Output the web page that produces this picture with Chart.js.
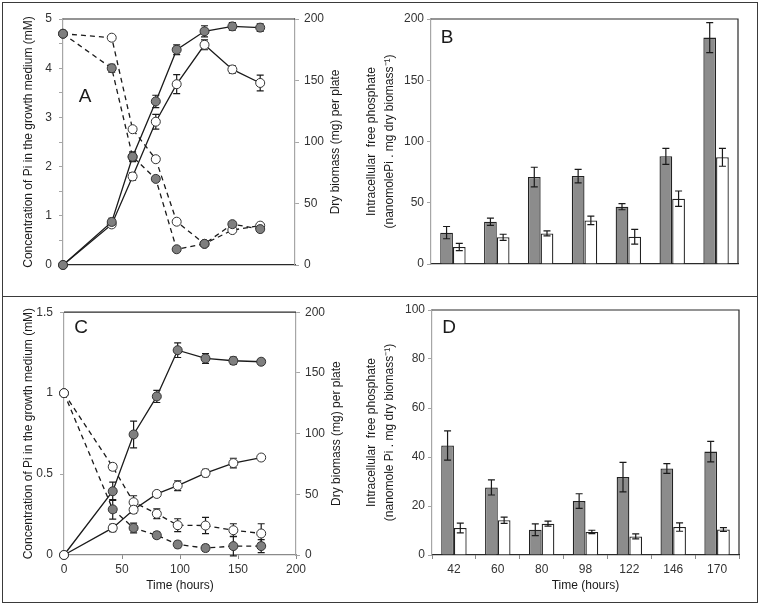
<!DOCTYPE html>
<html>
<head>
<meta charset="utf-8">
<script src="https://cdn.jsdelivr.net/npm/chart.js@4.4.1/dist/chart.umd.min.js"></script>
<style>
  html, body { margin: 0; padding: 0; background: #fff; }
  #lienzo { position: relative; width: 762px; height: 605px; overflow: hidden; }
  canvas { position: absolute; }
  .marco { position: absolute; border: 1.5px solid #3a3a3a; box-sizing: border-box; }
</style>
</head>
<body>
<div id="lienzo">
  <div class="marco" style="left:2px;top:2px;width:756px;height:295px"></div>
  <div class="marco" style="left:2px;top:296px;width:756px;height:307px"></div>
  <canvas id="graficoA" width="348" height="296" style="left:0;top:0"></canvas>
  <canvas id="graficoB" width="404" height="296" style="left:358px;top:0"></canvas>
  <canvas id="graficoC" width="348" height="307" style="left:0;top:298px"></canvas>
  <canvas id="graficoD" width="404" height="307" style="left:358px;top:298px"></canvas>
</div>
<script>
// Tiempos de muestreo (horas)
const horas = [0, 42, 60, 80, 98, 122, 146, 170];
const horasBarras = ["42", "60", "80", "98", "122", "146", "170"];

// Panel A: Pi en el medio (mM) y biomasa seca (mg)
const piGrisA      = [4.7, 4.0, 2.2, 1.75, 0.32, 0.43, 0.83, 0.73];
const piGrisAErr   = [0, 0.08, 0.1, 0.05, 0.04, 0.03, 0.04, 0.04];
const piBlancoA    = [4.7, 4.62, 2.76, 2.15, 0.88, 0.43, 0.71, 0.8];
const piBlancoAErr = [0, 0.04, 0.05, 0.05, 0.05, 0.04, 0.04, 0.04];
const bioGrisA      = [0, 35, 88, 133, 175, 190, 194, 193];
const bioGrisAErr   = [0, 3, 3, 5, 4, 4.5, 3, 3];
const bioBlancoA    = [0, 33, 72, 116.5, 147, 179, 159, 148];
const bioBlancoAErr = [0, 2, 3, 6, 7.7, 4, 3, 6.4];

// Panel B: fosfato libre intracelular
const intraGrisB      = [25.6, 34.5, 71, 71.8, 46.8, 87.9, 184.8];
const intraGrisBErr   = [5, 3, 8, 5.5, 2.5, 6.5, 12.2];
const intraBlancoB    = [13.9, 21.8, 25, 35.6, 22.3, 53.3, 87.1];
const intraBlancoBErr = [3, 2.5, 2, 3.5, 6, 6.3, 7.3];

// Panel C
const piGrisC      = [1.0, 0.282, 0.167, 0.122, 0.065, 0.043, 0.055, 0.055];
const piGrisCErr   = [0, 0.06, 0.03, 0.02, 0.02, 0.02, 0.06, 0.04];
const piBlancoC    = [1.0, 0.545, 0.326, 0.255, 0.184, 0.182, 0.153, 0.133];
const piBlancoCErr = [0, 0.02, 0.04, 0.03, 0.04, 0.05, 0.04, 0.06];
const bioGrisC      = [0, 52.5, 99.3, 130.6, 168.7, 161.9, 160, 159.2];
const bioGrisCErr   = [0, 7.5, 11, 5, 6, 4, 3, 2];
const bioBlancoC    = [0, 22.3, 37.3, 50.3, 57.1, 67.5, 75.7, 80.3];
const bioBlancoCErr = [0, 3, 3, 2, 4, 3, 4, 2];

// Panel D
const intraGrisD      = [44.7, 27.6, 10.3, 22, 31.8, 35.3, 42.2];
const intraGrisDErr   = [6, 3.1, 2.4, 3, 6, 2, 4.2];
const intraBlancoD    = [11, 14.2, 12.8, 9.4, 7.6, 11.4, 10.4];
const intraBlancoDErr = [2, 1.3, 1, 0.7, 1, 1.7, 0.8];

Chart.defaults.font.family = "'Liberation Sans', Arial, sans-serif";
Chart.defaults.font.size = 12;
Chart.defaults.color = "#333";

const GRIS_MARCA = "#7f7f7f";
const GRIS_BARRA = "#8c8c8c";
const GRIS_EJE = "#a6a6a6";
const OSCURO = "#2a2a2a";
const fuenteTitulo = { size: 12 };

// Barras de error dibujadas con las escalas del propio gráfico
function dibujarErrores(chart) {
  const ctx = chart.ctx;
  ctx.save();
  ctx.strokeStyle = "#1a1a1a";
  ctx.lineWidth = 1.2;
  chart.data.datasets.forEach((ds, i) => {
    if (!ds.errores) return;
    const meta = chart.getDatasetMeta(i);
    const escala = chart.scales[meta.yAxisID];
    meta.data.forEach((el, j) => {
      const e = ds.errores[j];
      if (!e) return;
      const d = ds.data[j];
      const v = typeof d === "object" ? d.y : d;
      const y1 = escala.getPixelForValue(v + e);
      const y2 = escala.getPixelForValue(v - e);
      const x = el.x;
      ctx.beginPath();
      ctx.moveTo(x, y1); ctx.lineTo(x, y2);
      ctx.moveTo(x - 3.5, y1); ctx.lineTo(x + 3.5, y1);
      ctx.moveTo(x - 3.5, y2); ctx.lineTo(x + 3.5, y2);
      ctx.stroke();
    });
  });
  ctx.restore();
}

function pluginErrores(encima) {
  return {
    id: "barrasError",
    beforeDatasetsDraw(chart) { if (!encima) dibujarErrores(chart); },
    afterDatasetsDraw(chart) { if (encima) dibujarErrores(chart); }
  };
}

// Letra del panel, borde superior/derecho y título del eje derecho
function pluginDecoracion(letra, lx, ly, bordeDerecho, tituloDerecho) {
  return {
    id: "decoracion",
    afterDraw(chart) {
      const ctx = chart.ctx;
      const a = chart.chartArea;
      ctx.save();
      ctx.strokeStyle = OSCURO;
      ctx.lineWidth = 1.2;
      ctx.beginPath();
      ctx.moveTo(a.left, a.top);
      ctx.lineTo(a.right, a.top);
      if (bordeDerecho) ctx.lineTo(a.right, a.bottom);
      ctx.stroke();
      ctx.fillStyle = "#1a1a1a";
      ctx.textAlign = "center";
      ctx.textBaseline = "middle";
      ctx.font = "19px 'Liberation Sans', Arial, sans-serif";
      ctx.fillText(letra, lx, ly);
      if (tituloDerecho) {
        ctx.font = "12px 'Liberation Sans', Arial, sans-serif";
        ctx.translate(a.right + 41, (a.top + a.bottom) / 2);
        ctx.rotate(-Math.PI / 2);
        ctx.fillText(tituloDerecho, 0, 0);
      }
      ctx.restore();
    }
  };
}

function puntos(valores) {
  return horas.map((h, i) => ({ x: h, y: valores[i] }));
}

function serieLinea(valores, errores, eje, gris, discontinua) {
  return {
    data: puntos(valores),
    errores: errores,
    yAxisID: eje,
    borderColor: "#1a1a1a",
    borderWidth: 1.3,
    borderDash: discontinua ? [5, 4] : [],
    pointRadius: 4.5,
    pointBackgroundColor: gris ? GRIS_MARCA : "#fff",
    pointBorderColor: "#333",
    pointBorderWidth: 1,
    tension: 0,
    fill: false,
    clip: false
  };
}

function crearLineas(id, datasets, opc) {
  const ctx = document.getElementById(id).getContext("2d");
  return new Chart(ctx, {
    type: "line",
    data: { datasets: datasets },
    options: {
      responsive: false,
      animation: false,
      devicePixelRatio: 1,
      layout: { padding: opc.padding },
      plugins: { legend: { display: false }, tooltip: { enabled: false } },
      scales: {
        x: {
          type: "linear", min: 0, max: 200,
          ticks: { display: opc.ejeX, stepSize: 50, padding: 3, color: "#333" },
          grid: { display: opc.ejeX, drawOnChartArea: false, tickLength: 4, color: "#8a8a8a" },
          border: { color: opc.colorX, width: 1.2 },
          title: { display: opc.ejeX, text: "Time (hours)", color: "#1a1a1a", font: fuenteTitulo },
          afterFit: s => { s.height = opc.altoX; }
        },
        y: {
          position: "left", min: 0, max: opc.maxPi,
          ticks: {
            stepSize: opc.pasoPi, padding: 7, color: "#333",
            callback: v => (opc.soloEnteros && !Number.isInteger(v)) ? "" : v
          },
          grid: { drawOnChartArea: false, tickLength: 4, color: GRIS_EJE },
          border: { color: GRIS_EJE, width: 1.2 },
          title: { display: true, text: "Concentration of Pi in the growth medium (mM)", color: "#1a1a1a", font: fuenteTitulo },
          afterFit: s => { s.width = opc.anchoIzq; }
        },
        y1: {
          position: "right", min: 0, max: 200,
          ticks: { stepSize: 50, padding: 5, color: "#333" },
          grid: { drawOnChartArea: false, tickLength: 4, color: GRIS_EJE },
          border: { color: GRIS_EJE, width: 1.2 },
          afterFit: s => { s.width = opc.anchoDer; }
        }
      }
    },
    plugins: [pluginErrores(false), pluginDecoracion(opc.letra, opc.lx, opc.ly, false, "Dry biomass (mg) per plate")]
  });
}

function crearBarras(id, gris, grisErr, blanco, blancoErr, opc) {
  const ctx = document.getElementById(id).getContext("2d");
  const estiloBarra = { borderColor: "#222", borderWidth: 1.3, barPercentage: 1, categoryPercentage: 0.58 };
  return new Chart(ctx, {
    type: "bar",
    data: {
      labels: horasBarras,
      datasets: [
        Object.assign({ data: gris, errores: grisErr, backgroundColor: GRIS_BARRA }, estiloBarra),
        Object.assign({ data: blanco, errores: blancoErr, backgroundColor: "#fff" }, estiloBarra)
      ]
    },
    options: {
      responsive: false,
      animation: false,
      devicePixelRatio: 1,
      layout: { padding: opc.padding },
      plugins: { legend: { display: false }, tooltip: { enabled: false } },
      scales: {
        x: {
          ticks: { display: opc.ejeX, padding: 3, color: "#333" },
          grid: { display: opc.ejeX, drawOnChartArea: false, tickLength: 4, color: "#8a8a8a" },
          border: { color: OSCURO, width: 1.2 },
          title: { display: opc.ejeX, text: "Time (hours)", color: "#1a1a1a", font: fuenteTitulo },
          afterFit: s => { s.height = opc.altoX; }
        },
        y: {
          min: 0, max: opc.max,
          ticks: { stepSize: opc.paso, padding: 3, color: "#333" },
          grid: { drawOnChartArea: false, tickLength: 4, color: GRIS_EJE },
          border: { color: GRIS_EJE, width: 1.2 },
          title: {
            display: true, text: opc.titulo, color: "#1a1a1a",
            font: { size: 12, lineHeight: 1.55 }, padding: { top: 4, bottom: 0 }
          },
          afterFit: s => { s.width = opc.anchoIzq; }
        }
      }
    },
    plugins: [pluginErrores(true), pluginDecoracion(opc.letra, opc.lx, opc.ly, true, null)]
  });
}

document.addEventListener("DOMContentLoaded", () => {
  // A: series grises encima
  crearLineas("graficoA", [
    serieLinea(bioGrisA, bioGrisAErr, "y1", true, false),
    serieLinea(piGrisA, piGrisAErr, "y", true, true),
    serieLinea(bioBlancoA, bioBlancoAErr, "y1", false, false),
    serieLinea(piBlancoA, piBlancoAErr, "y", false, true)
  ], {
    padding: { left: 17, top: 19, right: 0, bottom: 0 },
    ejeX: false, colorX: OSCURO, altoX: 31,
    maxPi: 5, pasoPi: 0.5, soloEnteros: true,
    anchoIzq: 46, anchoDer: 53,
    letra: "A", lx: 85, ly: 97
  });

  crearBarras("graficoB", intraGrisB, intraGrisBErr, intraBlancoB, intraBlancoBErr, {
    padding: { left: 0, top: 19, right: 24, bottom: 0 },
    ejeX: false, altoX: 32, max: 200, paso: 50, anchoIzq: 73,
    titulo: ["Intracellular  free phosphate", "(nanomolePi . mg dry biomass\u207B\u00B9)"],
    letra: "B", lx: 447 - 358, ly: 38
  });

  // C: series blancas encima
  crearLineas("graficoC", [
    serieLinea(bioBlancoC, bioBlancoCErr, "y1", false, false),
    serieLinea(piBlancoC, piBlancoCErr, "y", false, true),
    serieLinea(bioGrisC, bioGrisCErr, "y1", true, false),
    serieLinea(piGrisC, piGrisCErr, "y", true, true)
  ], {
    padding: { left: 17, top: 12, right: 0, bottom: 8 },
    ejeX: true, colorX: "#8a8a8a", altoX: 42,
    maxPi: 1.5, pasoPi: 0.5, soloEnteros: false,
    anchoIzq: 47, anchoDer: 52,
    letra: "C", lx: 81, ly: 30
  });

  crearBarras("graficoD", intraGrisD, intraGrisDErr, intraBlancoD, intraBlancoDErr, {
    padding: { left: 0, top: 12, right: 23, bottom: 8 },
    ejeX: true, altoX: 42, max: 100, paso: 20, anchoIzq: 74,
    titulo: ["Intracellular  free phosphate", "(nanomole Pi . mg dry biomass\u207B\u00B9)"],
    letra: "D", lx: 449 - 358, ly: 30
  });
});
</script>
</body>
</html>
